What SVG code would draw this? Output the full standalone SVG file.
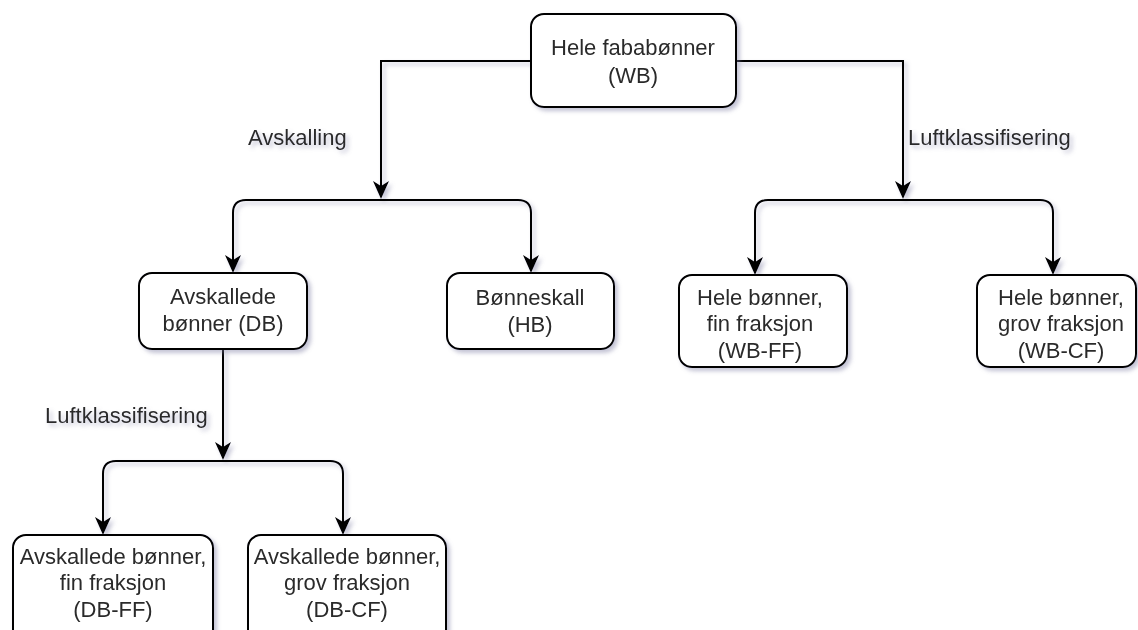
<svg xmlns="http://www.w3.org/2000/svg" width="1138" height="630" viewBox="0 0 1138 630">
  <style>
    .box { fill: #ffffff; stroke: #000000; stroke-width: 2; }
    .lbl { font-family: "Liberation Sans", Arial, sans-serif; font-size: 22px; fill: #2b2b2b; text-anchor: middle; }
    .edge-lbl { font-family: "Liberation Sans", Arial, sans-serif; font-size: 22px; fill: #2b2b2b; }
    .edge { fill: none; stroke: #000000; stroke-width: 2; }
  </style>
  <defs>
    <filter id="shadow" x="-20%" y="-20%" width="140%" height="140%">
      <feGaussianBlur in="SourceAlpha" stdDeviation="2"/>
      <feOffset dx="3" dy="3" result="b"/>
      <feFlood flood-color="#7a7aa0" flood-opacity="0.45"/>
      <feComposite in2="b" operator="in"/>
      <feMerge>
        <feMergeNode/>
        <feMergeNode in="SourceGraphic"/>
      </feMerge>
    </filter>
    <marker id="arrow" viewBox="0 0 18 16" refX="14" refY="8" markerWidth="18" markerHeight="16" markerUnits="userSpaceOnUse" orient="auto">
      <path d="M0,0 L18,8 L0,16 L5,8 Z" fill="#000000"/>
    </marker>
  </defs>
  <rect width="1138" height="630" fill="#ffffff"/>

  <g id="connectors" filter="url(#shadow)">
    <path class="edge" d="M531,61 H381 V195" marker-end="url(#arrow)"/>
    <path class="edge" d="M736,61 H903 V195" marker-end="url(#arrow)"/>
    <path class="edge" d="M381,200 H246 Q233,200 233,213 V269" marker-end="url(#arrow)"/>
    <path class="edge" d="M381,200 H518 Q531,200 531,213 V269" marker-end="url(#arrow)"/>
    <path class="edge" d="M903,200 H768 Q755,200 755,213 V271" marker-end="url(#arrow)"/>
    <path class="edge" d="M903,200 H1040 Q1053,200 1053,213 V271" marker-end="url(#arrow)"/>
    <path class="edge" d="M223,349 V456" marker-end="url(#arrow)"/>
    <path class="edge" d="M223,461 H116 Q103,461 103,474 V531" marker-end="url(#arrow)"/>
    <path class="edge" d="M223,461 H330 Q343,461 343,474 V531" marker-end="url(#arrow)"/>
  </g>

  <g id="edge-labels" filter="url(#shadow)">
    <text class="edge-lbl" x="248" y="145">Avskalling</text>
    <text class="edge-lbl" x="908" y="145">Luftklassifisering</text>
    <text class="edge-lbl" x="45" y="423">Luftklassifisering</text>
  </g>

  <g id="node-wb" filter="url(#shadow)">
    <rect class="box" x="531" y="14" width="205" height="93" rx="13"/>
    <text class="lbl" x="633" y="55">Hele fababønner</text>
    <text class="lbl" x="633" y="83">(WB)</text>
  </g>

  <g id="node-db" filter="url(#shadow)">
    <rect class="box" x="139" y="273" width="168" height="76" rx="13"/>
    <text class="lbl" x="223" y="304">Avskallede</text>
    <text class="lbl" x="223" y="331">bønner (DB)</text>
  </g>

  <g id="node-hb" filter="url(#shadow)">
    <rect class="box" x="447" y="273" width="167" height="76" rx="13"/>
    <text class="lbl" x="530" y="305">Bønneskall</text>
    <text class="lbl" x="530" y="332">(HB)</text>
  </g>

  <g id="node-wb-ff" filter="url(#shadow)">
    <rect class="box" x="679" y="275" width="168" height="92" rx="13"/>
    <text class="lbl" x="760" y="305">Hele bønner,</text>
    <text class="lbl" x="760" y="331">fin fraksjon</text>
    <text class="lbl" x="760" y="358">(WB-FF)</text>
  </g>

  <g id="node-wb-cf" filter="url(#shadow)">
    <rect class="box" x="977" y="275" width="159" height="92" rx="13"/>
    <text class="lbl" x="1061" y="305">Hele bønner,</text>
    <text class="lbl" x="1061" y="331">grov fraksjon</text>
    <text class="lbl" x="1061" y="358">(WB-CF)</text>
  </g>

  <g id="node-db-ff" filter="url(#shadow)">
    <rect class="box" x="13" y="535" width="200" height="110" rx="13"/>
    <text class="lbl" x="113" y="564">Avskallede bønner,</text>
    <text class="lbl" x="113" y="590">fin fraksjon</text>
    <text class="lbl" x="113" y="617">(DB-FF)</text>
  </g>

  <g id="node-db-cf" filter="url(#shadow)">
    <rect class="box" x="248" y="535" width="198" height="110" rx="13"/>
    <text class="lbl" x="347" y="564">Avskallede bønner,</text>
    <text class="lbl" x="347" y="590">grov fraksjon</text>
    <text class="lbl" x="347" y="617">(DB-CF)</text>
  </g>
</svg>
